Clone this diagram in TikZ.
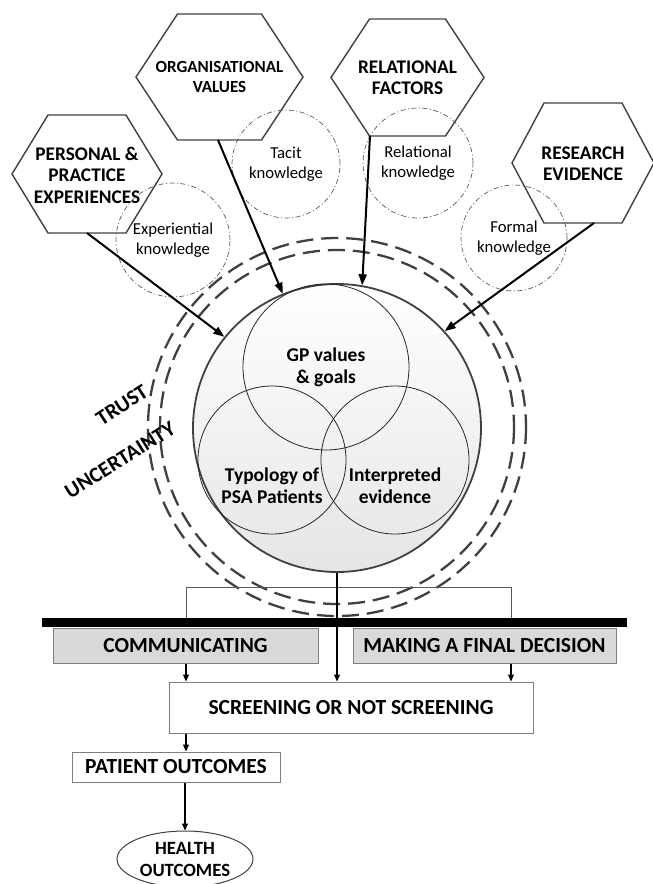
\documentclass[tikz,border=0pt]{standalone}
\usepackage{fontspec}
\setmainfont{Carlito}
\usetikzlibrary{arrows.meta,shapes.geometric}

\definecolor{edge}{HTML}{404040}
\definecolor{boxgray}{HTML}{D9D9D9}
\definecolor{frame}{HTML}{7F7F7F}

\newcommand\fsz[2]{\fontsize{#1}{#2}\selectfont}
% hexagon: centre x, centre y, half width, half top edge, half height
\newcommand\hexagon[5]{%
  \draw[hexline] (#1-#3,#2) -- (#1-#4,#2-#5) -- (#1+#4,#2-#5) --
    (#1+#3,#2) -- (#1+#4,#2+#5) -- (#1-#4,#2+#5) -- cycle;}

\tikzset{
  hexline/.style={draw=edge, line width=1.4pt, line join=miter},
  hexlabel/.style={font=\bfseries\fsz{19.3}{21.5}, align=center, inner sep=0pt},
  know/.style={circle, draw=black!65, line width=0.7pt,
    dash pattern=on 5pt off 2.5pt on 1pt off 2.5pt,
    align=center, font=\fsz{16.7}{20.5}, inner sep=0pt},
  ring/.style={draw=edge, line width=2.3pt, dash pattern=on 17pt off 8pt},
  venn/.style={draw=black!85, line width=0.8pt},
  core label/.style={font=\bfseries\fsz{19.5}{22.5}, align=center, inner sep=0pt},
  feed/.style={draw=black, line width=2pt, -{Triangle[length=11pt,width=8pt]}},
  flow/.style={draw=black, line width=1.1pt, -{Triangle[length=7pt,width=6pt]}},
  bracket/.style={draw=black!65, line width=1pt},
  graybox/.style={draw=frame, fill=boxgray, line width=1pt, inner sep=0pt,
    font=\bfseries\fsz{21.5}{24}, minimum height=35},
  whitebox/.style={draw=frame, fill=white, line width=1pt, inner sep=0pt,
    font=\bfseries\fsz{21.5}{24}},
  tilted/.style={font=\bfseries\fsz{21.5}{24}, inner sep=0pt}
}

\begin{document}
\begin{tikzpicture}[x=1pt,y=-1pt]
\useasboundingbox (0,0) rectangle (653,884);
\clip (0,0) rectangle (653,884);

% influences
\hexagon{219.5}{77}{83.5}{42}{63}
\hexagon{87}{174}{75}{39}{59}
\hexagon{407.5}{77.5}{76.5}{38}{58.5}
\hexagon{583}{163}{71}{39}{60}
\node[hexlabel, font=\bfseries\fsz{17}{20}] (org) at (219.5,77) {ORGANISATIONAL\\VALUES};
\node[hexlabel] (per) at (87,175) {PERSONAL \&\\PRACTICE\\EXPERIENCES};
\node[hexlabel] (rel) at (407.5,77.5) {RELATIONAL\\FACTORS};
\node[hexlabel] (res) at (583,163.5) {RESEARCH\\EVIDENCE};
\coordinate (orgfoot) at (218,140);
\coordinate (perfoot) at (87,233);
\coordinate (relfoot) at (370,136);
\coordinate (resfoot) at (594,223);

% kinds of knowledge
\node[know, minimum size=108] (tacit) at (286,164) {Tacit\\knowledge};
\node[know, minimum size=114] (exper) at (173,240) {Experiential\\knowledge};
\node[know, minimum size=110] (relk) at (418,163) {Relational\\knowledge};
\node[know, minimum size=106] (formal) at (514,238) {Formal\\knowledge};

% trust and uncertainty rings
\draw[ring] (337,427) circle[radius=177];
\draw[ring] (337,427) circle[radius=189];

% core decision space
\node[circle, draw=edge, line width=1.8pt, minimum size=288, inner sep=0pt,
  top color=white, bottom color=black!10] (core) at (337,428) {};
\draw[venn] (326,367) circle[radius=83];
\draw[venn] (272,460) circle[radius=74];
\draw[venn] (395,460) circle[radius=74];
\node[core label] (gp) at (326,367.5) {GP values\\\& goals};
\node[core label] (typ) at (272,485.5) {Typology of\\PSA Patients};
\node[core label] (interp) at (395,485.5) {Interpreted\\evidence};

\node[tilted, rotate=33] (trust) at (122,405) {TRUST};
\node[tilted, rotate=32] (unc) at (120,460) {UNCERTAINTY};

% influences feeding the core
\draw[feed] (perfoot) -- (core.141);
\draw[feed] (orgfoot) -- (core.112);
\draw[feed] (relfoot) -- (core.80);
\draw[feed] (resfoot) -- (core.42);

% process
\node[fill=black, minimum width=585, minimum height=9, inner sep=0pt] (bar) at (334.5,622.5) {};
\node[graybox, minimum width=265] (comm) at (185.5,645.5) {COMMUNICATING};
\node[graybox, minimum width=263] (decide) at (484.5,645.5) {MAKING A FINAL DECISION};
\node[whitebox, minimum width=364, minimum height=51] (scr) at (351,707.5) {SCREENING OR NOT SCREENING};
\node[whitebox, minimum width=208, minimum height=30] (pat) at (176,767) {PATIENT OUTCOMES};
\node[ellipse, draw=edge, line width=1pt, minimum width=136, minimum height=56,
  inner sep=0pt, align=center, font=\bfseries\fsz{18.7}{22}] (health) at (185,859) {HEALTH\\OUTCOMES};

\coordinate (jl) at (186,587);
\coordinate (jr) at (511,587);
\draw[bracket] (jl |- bar.north) -- (jl) -- (jr) -- (jr |- bar.north);
\draw[flow, line width=1.3pt] (core.south) -- (core.south |- scr.north);
\draw[flow] (jl |- comm.south) -- (jl |- scr.north);
\draw[flow] (jr |- decide.south) -- (jr |- scr.north);
\draw[flow] (jl |- scr.south) -- (jl |- pat.north);
\draw[flow] (health.north |- pat.south) -- (health.north);
\end{tikzpicture}
\end{document}
